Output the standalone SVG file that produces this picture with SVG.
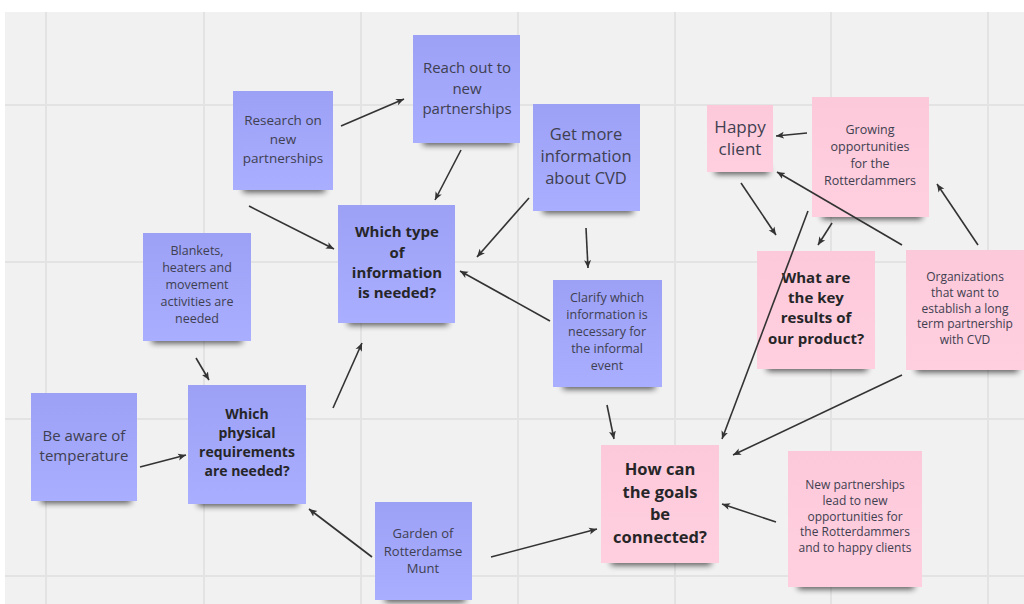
<svg xmlns="http://www.w3.org/2000/svg" width="1024" height="604" viewBox="0 0 1024 604">
<style>
.grid{stroke:#e3e3e3;stroke-width:2}
.blue{fill:url(#gb)}
.pink{fill:url(#gp)}
.sh{fill:#000;opacity:.7;filter:url(#blur)}
text{font-family:"Open Sans","Noto Sans","DejaVu Sans",sans-serif;text-anchor:middle;fill:#3f4050}
.b{font-weight:bold;fill:#262628}
.c line{stroke:#333;stroke-width:1.6;marker-end:url(#ah)}
</style>
<defs>
<linearGradient id="gb" x1="0" y1="0" x2="0" y2="1"><stop offset="0" stop-color="#9ca1f6"/><stop offset="1" stop-color="#a9aeff"/></linearGradient>
<linearGradient id="gp" x1="0" y1="0" x2="0" y2="1"><stop offset="0" stop-color="#fcc9da"/><stop offset="1" stop-color="#ffcfe0"/></linearGradient>
<filter id="blur" x="-20%" y="-100%" width="140%" height="300%"><feGaussianBlur stdDeviation="3"/></filter>
<marker id="ah" markerUnits="userSpaceOnUse" markerWidth="10" markerHeight="8" refX="8" refY="4" orient="auto"><path d="M0,0.5 L8,4 L0,7.5 L2,4 z" fill="#333"/></marker>
</defs>
<rect width="1024" height="604" fill="#fff"/>
<rect x="5" y="12" width="1019" height="592" fill="#f1f1f1"/>
<g id="grid">
<line class="grid" x1="46" y1="12" x2="46" y2="604"/>
<line class="grid" x1="204" y1="12" x2="204" y2="604"/>
<line class="grid" x1="361" y1="12" x2="361" y2="604"/>
<line class="grid" x1="518" y1="12" x2="518" y2="604"/>
<line class="grid" x1="675" y1="12" x2="675" y2="604"/>
<line class="grid" x1="831" y1="12" x2="831" y2="604"/>
<line class="grid" x1="988" y1="12" x2="988" y2="604"/>
<line class="grid" x1="5" y1="105" x2="1024" y2="105"/>
<line class="grid" x1="5" y1="262" x2="1024" y2="262"/>
<line class="grid" x1="5" y1="419" x2="1024" y2="419"/>
<line class="grid" x1="5" y1="576" x2="1024" y2="576"/>
</g>
<g id="n-research">
<rect class="sh" x="243" y="185" width="82" height="7"/>
<rect class="blue" x="233" y="91" width="100" height="99"/>
<text font-size="13.5"><tspan x="283" y="125">Research on</tspan><tspan x="283" y="144">new</tspan><tspan x="283" y="163">partnerships</tspan></text>
</g>
<g id="n-reachout">
<rect class="sh" x="423" y="138" width="90" height="7"/>
<rect class="blue" x="413" y="35" width="107" height="108"/>
<text font-size="15"><tspan x="467" y="73">Reach out to</tspan><tspan x="467" y="94">new</tspan><tspan x="467" y="114">partnerships</tspan></text>
</g>
<g id="n-whichtype">
<rect class="sh" x="348" y="318" width="100" height="7"/>
<rect class="blue" x="338" y="205" width="117" height="118"/>
<text class="b" font-size="15"><tspan x="397" y="237">Which type</tspan><tspan x="397" y="258">of</tspan><tspan x="397" y="278">information</tspan><tspan x="397" y="298">is needed?</tspan></text>
</g>
<g id="n-blankets">
<rect class="sh" x="152" y="336" width="90" height="7"/>
<rect class="blue" x="143" y="233" width="108" height="108"/>
<text font-size="12.5"><tspan x="197" y="255">Blankets,</tspan><tspan x="197" y="272">heaters and</tspan><tspan x="197" y="289">movement</tspan><tspan x="197" y="306">activities are</tspan><tspan x="197" y="323">needed</tspan></text>
</g>
<g id="n-getmore">
<rect class="sh" x="543" y="206" width="90" height="7"/>
<rect class="blue" x="533" y="104" width="107" height="107"/>
<text font-size="16.5"><tspan x="586" y="140">Get more</tspan><tspan x="586" y="162">information</tspan><tspan x="586" y="184">about CVD</tspan></text>
</g>
<g id="n-clarify">
<rect class="sh" x="563" y="382" width="92" height="7"/>
<rect class="blue" x="553" y="280" width="109" height="107"/>
<text font-size="12.5"><tspan x="607" y="302">Clarify which</tspan><tspan x="607" y="319">information is</tspan><tspan x="607" y="336">necessary for</tspan><tspan x="607" y="353">the informal</tspan><tspan x="607" y="370">event</tspan></text>
</g>
<g id="n-aware">
<rect class="sh" x="41" y="496" width="90" height="7"/>
<rect class="blue" x="31" y="393" width="106" height="108"/>
<text font-size="15"><tspan x="84" y="441">Be aware of</tspan><tspan x="84" y="461">temperature</tspan></text>
</g>
<g id="n-physical">
<rect class="sh" x="198" y="499" width="100" height="7"/>
<rect class="blue" x="188" y="385" width="118" height="119"/>
<text class="b" font-size="14"><tspan x="247" y="419">Which</tspan><tspan x="247" y="438">physical</tspan><tspan x="247" y="457">requirements</tspan><tspan x="247" y="476">are needed?</tspan></text>
</g>
<g id="n-garden">
<rect class="sh" x="385" y="595" width="80" height="7"/>
<rect class="blue" x="375" y="502" width="97" height="98"/>
<text font-size="13"><tspan x="423" y="538">Garden of</tspan><tspan x="423" y="556">Rotterdamse</tspan><tspan x="423" y="573">Munt</tspan></text>
</g>
<g id="n-howcan">
<rect class="sh" x="611" y="558" width="100" height="7"/>
<rect class="pink" x="601" y="445" width="118" height="118"/>
<text class="b" font-size="16.5"><tspan x="660" y="475">How can</tspan><tspan x="660" y="498">the goals</tspan><tspan x="660" y="520">be</tspan><tspan x="660" y="543">connected?</tspan></text>
</g>
<g id="n-newpartnerships">
<rect class="sh" x="798" y="582" width="116" height="7"/>
<rect class="pink" x="788" y="451" width="134" height="136"/>
<text font-size="12"><tspan x="855" y="489">New partnerships</tspan><tspan x="855" y="505">lead to new</tspan><tspan x="855" y="521">opportunities for</tspan><tspan x="855" y="536">the Rotterdammers</tspan><tspan x="855" y="552">and to happy clients</tspan></text>
</g>
<g id="n-happy">
<rect class="sh" x="715" y="167" width="54" height="7"/>
<rect class="pink" x="707" y="105" width="66" height="67"/>
<text font-size="17"><tspan x="740" y="133">Happy</tspan><tspan x="740" y="155">client</tspan></text>
</g>
<g id="n-growing">
<rect class="sh" x="822" y="212" width="100" height="7"/>
<rect class="pink" x="812" y="97" width="117" height="120"/>
<text font-size="12.5"><tspan x="870" y="134">Growing</tspan><tspan x="870" y="151">opportunities</tspan><tspan x="870" y="168">for the</tspan><tspan x="870" y="185">Rotterdammers</tspan></text>
</g>
<g id="n-keyresults">
<rect class="sh" x="767" y="364" width="100" height="7"/>
<rect class="pink" x="757" y="251" width="118" height="118"/>
<text class="b" font-size="15"><tspan x="816" y="283">What are</tspan><tspan x="816" y="303">the key</tspan><tspan x="816" y="323">results of</tspan><tspan x="816" y="344">our product?</tspan></text>
</g>
<g id="n-organizations">
<rect class="sh" x="916" y="365" width="102" height="7"/>
<rect class="pink" x="906" y="250" width="118" height="120"/>
<text font-size="12"><tspan x="965" y="281">Organizations</tspan><tspan x="965" y="297">that want to</tspan><tspan x="965" y="313">establish a long</tspan><tspan x="965" y="328">term partnership</tspan><tspan x="965" y="344">with CVD</tspan></text>
</g>
<g id="connectors" class="c">
<line x1="341" y1="126" x2="404" y2="99"/>
<line x1="461" y1="150" x2="435" y2="200"/>
<line x1="249" y1="206" x2="334" y2="249"/>
<line x1="529" y1="198" x2="477" y2="257"/>
<line x1="550" y1="321" x2="460" y2="271"/>
<line x1="586" y1="228" x2="588" y2="268"/>
<line x1="196" y1="358" x2="209" y2="380"/>
<line x1="140" y1="467" x2="186" y2="455"/>
<line x1="333" y1="408" x2="362" y2="343"/>
<line x1="372" y1="557" x2="309" y2="509"/>
<line x1="491" y1="557" x2="597" y2="529"/>
<line x1="607" y1="405" x2="614" y2="439"/>
<line x1="808" y1="211" x2="722" y2="439"/>
<line x1="902" y1="375" x2="733" y2="455"/>
<line x1="776" y1="522" x2="722" y2="504"/>
<line x1="807" y1="133" x2="776" y2="136"/>
<line x1="741" y1="183" x2="776" y2="235"/>
<line x1="832" y1="223" x2="818" y2="245"/>
<line x1="902" y1="245" x2="777" y2="172"/>
<line x1="978" y1="245" x2="937" y2="184"/>
</g>
</svg>
